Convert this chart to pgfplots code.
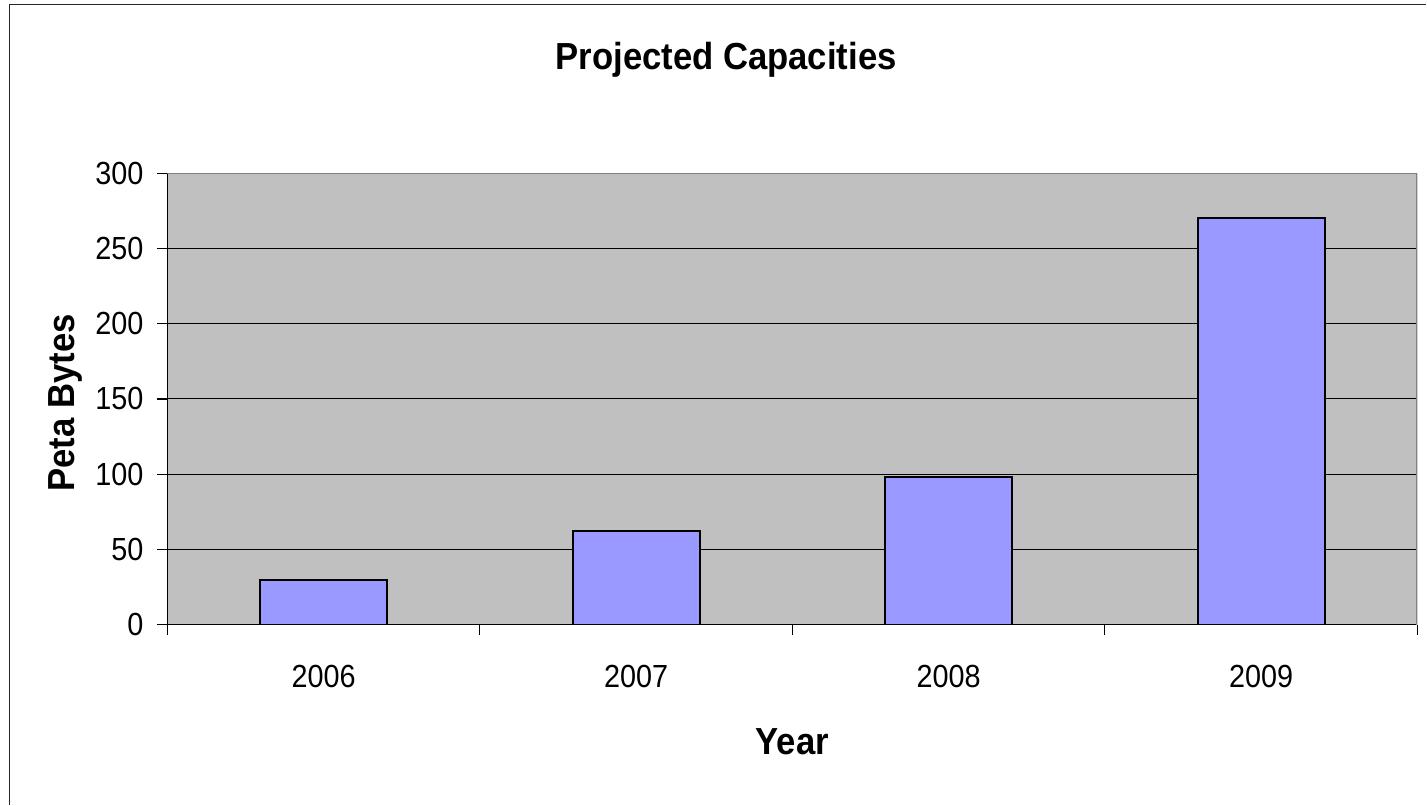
\documentclass[border=0pt]{standalone}
\usepackage{pgfplots}
\pgfplotsset{compat=1.18}
\usepackage{fontspec}
\setmainfont{Liberation Sans}[FakeStretch=0.92]
\newfontfamily\tickfont{Liberation Sans}[FakeStretch=0.9]

\definecolor{plotgray}{HTML}{C0C0C0}
\definecolor{bordergray}{HTML}{808080}
\definecolor{barblue}{HTML}{9999FF}

\begin{document}
\begin{tikzpicture}
% page extent and chart frame
\path (-83.75pt,-90pt) rectangle (629.75pt,312.5pt);
\draw[black!85, line width=0.7pt] (-79pt,-90pt) -- (-79pt,310.15pt) -- (629.75pt,310.15pt);

\begin{axis}[
  scale only axis,
  width=625.25pt, height=225.85pt,
  ymin=0, ymax=300,
  ytick={0,50,...,300},
  xmin=-0.5, xmax=3.5,
  xtick={-0.5,0.5,1.5,2.5,3.5},
  xticklabels={},
  extra x ticks={0,1,2,3},
  extra x tick labels={2006,2007,2008,2009},
  extra x tick style={major tick length=0pt, grid=none},
  axis lines*=left,
  axis line style={black, line width=0.6pt},
  tick align=outside,
  major tick length=5pt,
  tick style={black, line width=0.6pt},
  ymajorgrids,
  grid style={black, line width=0.5pt},
  axis background/.style={fill=plotgray},
  /pgf/number format/assume math mode=true,
  ticklabel style={font=\tickfont\fontsize{16}{16}\selectfont},
  x tick label style={yshift=-16.5pt},
  y tick label style={xshift=-3.5pt},
  every axis title shift=0pt,
  title={Projected Capacities},
  title style={font=\bfseries\fontsize{18.85}{20}\selectfont,
    at={(axis description cs:0.447,1.2287)}, anchor=base},
  xlabel={Year},
  xlabel style={font=\bfseries\fontsize{18.85}{20}\selectfont,
    at={(axis description cs:0.5,-0.2878)}, anchor=base},
  ylabel={Peta Bytes},
  ylabel style={font=\bfseries\fontsize{18.85}{20}\selectfont,
    at={(axis description cs:-0.074,0.4915)}, anchor=base},
  ybar,
  bar width=63.5pt,
]
\addplot[fill=barblue, draw=black, line width=1pt]
  coordinates {(0,30) (1,62) (2,98) (3,270)};
\draw[bordergray, line width=1pt] (rel axis cs:0,1) -- (rel axis cs:1,1) -- (rel axis cs:1,0);
\end{axis}
\end{tikzpicture}
\end{document}
